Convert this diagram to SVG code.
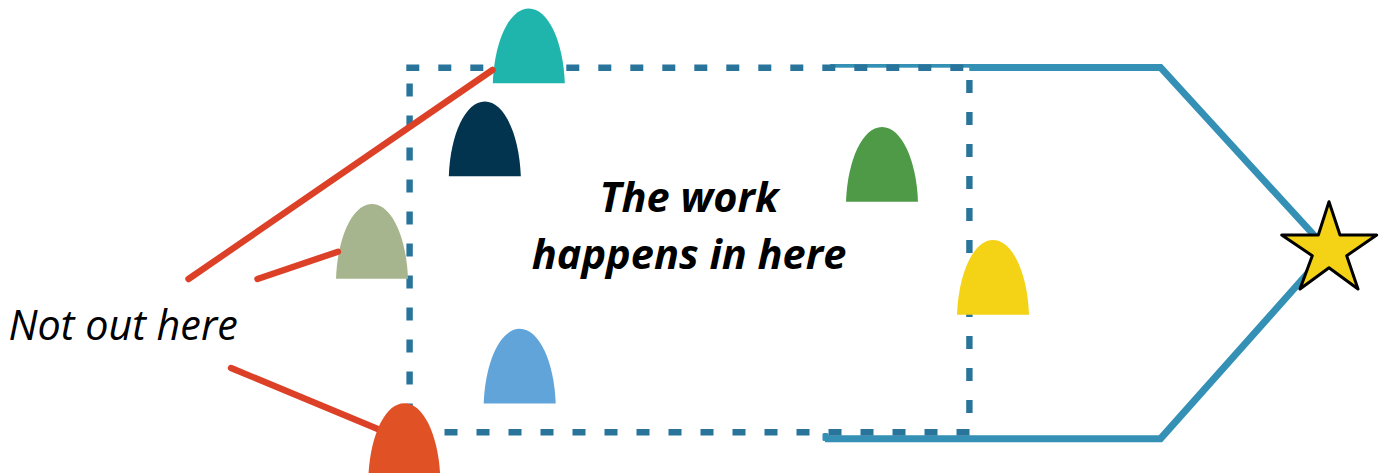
<svg xmlns="http://www.w3.org/2000/svg" width="1384" height="473" viewBox="0 0 1384 473">
<style>
.route{fill:none;stroke:#3490b4;stroke-width:7;stroke-linejoin:miter}
.dash{fill:none;stroke:#28749a;stroke-width:6.4;stroke-dasharray:13 19}
.red{fill:none;stroke:#dc4128;stroke-width:6.4;stroke-linecap:round}
.big{font-family:"Open Sans",sans-serif;font-weight:700;font-style:italic;font-size:41.5px;fill:#000;text-anchor:middle}
.small{font-family:"Open Sans",sans-serif;font-style:italic;font-size:41.3px;fill:#000}
</style>
<defs>
<path id="bell" d="M0,74.8 C1.5,33 16.5,0 36,0 C55.5,0 70.5,33 72,74.8 Z"/>
</defs>
<g id="routes">
<path class="route" d="M830,67.5 H1160.5 L1328,250.5 L1160.5,438.7 H825"/>
<rect x="822.5" y="433" width="6" height="8" rx="1.5" fill="#3490b4"/>
</g>
<g id="frame">
<rect x="409.5" y="67.7" width="559.8" height="364.5" fill="#fff"/>
<path class="dash" d="M406.3,67.7 H969"/>
<path class="dash" d="M969.4,80 V432"/>
<path class="dash" d="M969.5,432.2 H409"/>
<path class="dash" d="M409.6,83.5 V432"/>
</g>
<g id="node-teal"><use href="#bell" x="492.8" y="8.5" fill="#1fb5ac"/></g>
<g id="node-navy"><use href="#bell" x="448.8" y="101.5" fill="#03344f"/></g>
<g id="node-green"><use href="#bell" x="846" y="127" fill="#4e9a47"/></g>
<g id="node-sage"><use href="#bell" x="336" y="204" fill="#a7b58e"/></g>
<g id="node-yellow"><use href="#bell" x="957" y="240" fill="#f4d316"/></g>
<g id="node-blue"><use href="#bell" x="483.7" y="328.8" fill="#60a4da"/></g>
<g id="connectors">
<path class="red" d="M188.5,279 L492.5,70"/>
<path class="red" d="M257.5,279 L338,251.7"/>
<path class="red" d="M231,368 L385,432"/>
</g>
<g id="node-orange"><use href="#bell" x="368.3" y="403.2" fill="#e05125"/></g>
<g id="node-star"><path d="M1329,201.7 L1340,235 H1376.7 L1346.7,255.7 L1358,289 L1329,267.7 L1300,289 L1312.3,255.7 L1281.7,235 H1318.3 Z" fill="#f4d316" stroke="#000" stroke-width="3" stroke-linejoin="round"/></g>
<g id="labels">
<text class="big" x="689" y="212">The work</text>
<text class="big" x="689" y="269">happens in here</text>
<text class="small" x="8.5" y="340">Not out here</text>
</g>
</svg>
